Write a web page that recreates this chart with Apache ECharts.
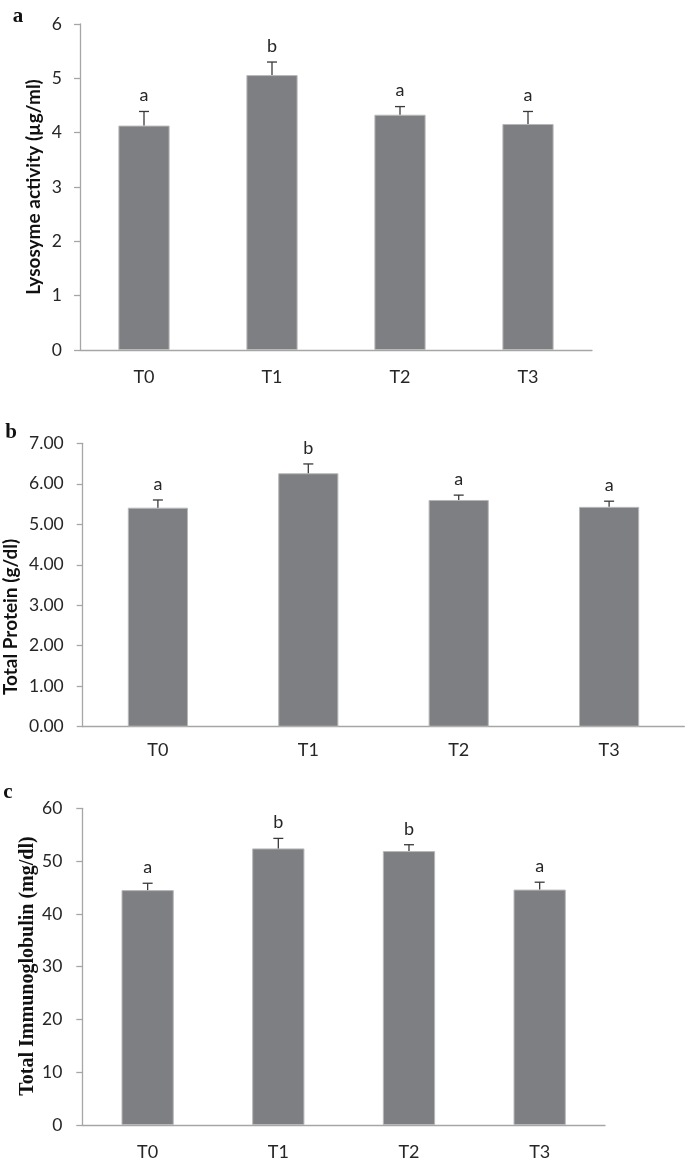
<!DOCTYPE html>
<html>
<head>
<meta charset="utf-8">
<script src="https://cdn.jsdelivr.net/npm/echarts@6/dist/echarts.min.js"></script>
<style>
html,body{margin:0;padding:0;background:#fff;}
#chart{width:685px;height:1164px;}
</style>
</head>
<body>
<div id="chart"></div>
<script>
const categories = ['T0', 'T1', 'T2', 'T3'];

const lysMean = [4.13, 5.06, 4.33, 4.16];
const lysErr = [0.26, 0.24, 0.15, 0.23];
const lysLetters = ['a', 'b', 'a', 'a'];

const protMean = [5.41, 6.26, 5.60, 5.43];
const protErr = [0.19, 0.23, 0.12, 0.14];
const protLetters = ['a', 'b', 'a', 'a'];

const igMean = [44.5, 52.4, 51.9, 44.6];
const igErr = [1.3, 1.9, 1.2, 1.4];
const igLetters = ['a', 'b', 'b', 'a'];

const lysAxis = {min: 0, max: 6, interval: 1};
const protAxis = {min: 0, max: 7, interval: 1};
const igAxis = {min: 0, max: 60, interval: 10};

const yTitles = ['Lysosyme activity (µg/ml)', 'Total Protein (g/dl)', 'Total Immunoglobulin (mg/dl)'];
const panelLetters = ['a', 'b', 'c'];

const BAR = '#7e7f83';
const AXIS = '#a6a6a6';
const TXT = '#262626';
const SANS = 'Lato, "Open Sans", sans-serif';

const chart = echarts.init(document.getElementById('chart'), null, {renderer: 'canvas'});

function errRender(letters) {
  return function (params, api) {
    const i = api.value(0), m = api.value(1), e = api.value(2);
    const base = api.coord([i, m]);
    const top = api.coord([i, m + e]);
    const st = {stroke: '#3a3a3a', lineWidth: 1.3};
    return {
      type: 'group',
      children: [
        {type: 'line', shape: {x1: top[0], y1: base[1], x2: top[0], y2: top[1]}, style: st},
        {type: 'line', shape: {x1: top[0] - 5, y1: top[1], x2: top[0] + 5, y2: top[1]}, style: st},
        {type: 'text', style: {text: letters[params.dataIndex], x: top[0], y: top[1] - 16,
          textAlign: 'center', textVerticalAlign: 'middle', font: '18px ' + SANS, fill: TXT}}
      ]
    };
  };
}

const grids = [
  {left: 80, top: 24, width: 512, height: 326},
  {left: 82.7, top: 443.3, width: 601.6, height: 283.4},
  {left: 82.3, top: 808.3, width: 522.7, height: 316.7}
];
const axesCfg = [lysAxis, protAxis, igAxis];
const yMargins = [18, 19, 20];
const xMargins = [18, 14, 18];
const means = [lysMean, protMean, igMean];
const errs = [lysErr, protErr, igErr];
const letters = [lysLetters, protLetters, igLetters];

const xAxis = grids.map((g, k) => ({
  type: 'category', gridIndex: k, data: categories,
  axisLine: {lineStyle: {color: AXIS, width: 1.3}},
  axisTick: {show: false},
  axisLabel: {color: TXT, fontFamily: SANS, fontSize: 18, margin: xMargins[k]}
}));
const yAxis = grids.map((g, k) => ({
  type: 'value', gridIndex: k,
  min: axesCfg[k].min, max: axesCfg[k].max, interval: axesCfg[k].interval,
  splitLine: {show: false},
  axisLine: {show: true, lineStyle: {color: AXIS, width: 1.3}},
  axisTick: {show: true, length: 6, lineStyle: {color: AXIS, width: 1.3}},
  axisLabel: {color: TXT, fontFamily: SANS, fontSize: 17.5, margin: yMargins[k],
    formatter: k === 1 ? (v => v.toFixed(2)) : (v => String(v))}
}));

const series = [];
for (let k = 0; k < 3; k++) {
  series.push({
    type: 'bar', xAxisIndex: k, yAxisIndex: k, data: means[k], barWidth: '40%',
    itemStyle: {color: BAR, borderColor: '#b8b8b8', borderWidth: 1},
    silent: true, z: 2
  });
  series.push({
    type: 'custom', xAxisIndex: k, yAxisIndex: k,
    data: categories.map((c, i) => [i, means[k][i], errs[k][i]]),
    renderItem: errRender(letters[k]), silent: true, z: 5
  });
}

const titleFonts = ['bold 19px ' + SANS, 'bold 19px ' + SANS, 'bold 20px "Liberation Serif", "Times New Roman", serif'];
const titlePos = [[34, 187], [11, 617], [28, 966]];
const letterPos = [[18, 17], [11, 433], [8, 793]];

const graphic = [];
for (let k = 0; k < 3; k++) {
  graphic.push({
    type: 'text', x: titlePos[k][0], y: titlePos[k][1], rotation: Math.PI / 2,
    style: {text: yTitles[k], font: titleFonts[k], fill: '#111', textAlign: 'center', textVerticalAlign: 'middle'}
  });
  graphic.push({
    type: 'text', x: letterPos[k][0], y: letterPos[k][1],
    style: {text: panelLetters[k], font: 'bold 21px "Liberation Serif", "Times New Roman", serif', fill: '#111',
      textAlign: 'center', textVerticalAlign: 'middle'}
  });
}

chart.setOption({
  animation: false,
  backgroundColor: '#fff',
  grid: grids,
  xAxis: xAxis,
  yAxis: yAxis,
  series: series,
  graphic: graphic
});
</script>
</body>
</html>
